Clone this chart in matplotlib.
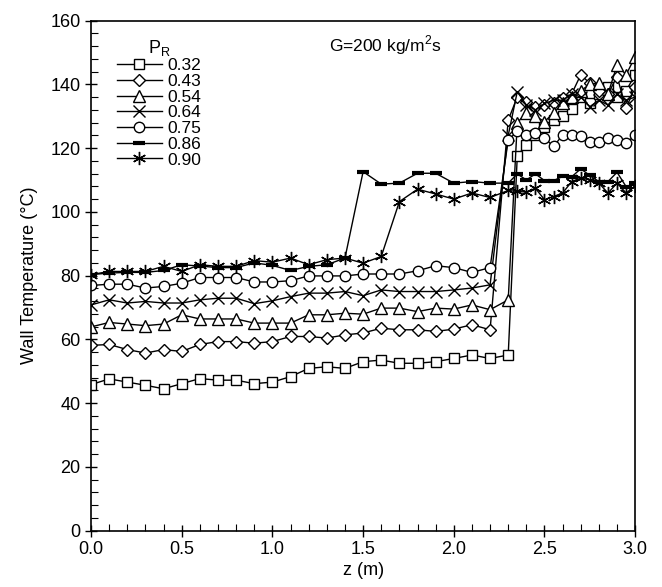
import matplotlib
matplotlib.use("Agg")
import matplotlib.pyplot as plt
from matplotlib.ticker import MultipleLocator

plt.rcParams['font.family'] = ['Liberation Sans', 'DejaVu Sans']
plt.rcParams['mathtext.fontset'] = 'custom'
plt.rcParams['mathtext.rm'] = 'Liberation Sans'

# axial positions (m): coarse part up to 2.2, finer spacing after the dryout jump
z_lo = [0.0, 0.1, 0.2, 0.3, 0.4, 0.5, 0.6, 0.7, 0.8, 0.9, 1.0, 1.1,
        1.2, 1.3, 1.4, 1.5, 1.6, 1.7, 1.8, 1.9, 2.0, 2.1, 2.2]
z_hi = [2.3, 2.35, 2.4, 2.45, 2.5, 2.55, 2.6, 2.65, 2.7, 2.75, 2.8,
        2.85, 2.9, 2.95, 3.0]
z_all = z_lo + z_hi

t_032 = [45.8, 47.6, 46.6, 45.6, 44.5, 46.1, 47.7, 47.2, 47.2, 46.1, 46.6, 48.3,
         50.9, 51.4, 50.9, 53.0, 53.5, 52.5, 52.5, 53.0, 54.0, 55.1, 54.0,
         55.1, 117.6, 121.0, 124.0, 126.5, 128.8, 130.1, 132.2, 136.1, 134.0,
         137.0, 139.3, 136.0, 138.0, 143.0]
t_043 = [58.1, 58.4, 56.8, 55.7, 56.8, 56.2, 58.4, 59.3, 59.3, 58.8, 59.3, 60.9,
         60.9, 60.4, 61.4, 62.0, 63.5, 63.0, 63.0, 62.5, 63.2, 64.6, 63.0,
         128.8, 136.0, 134.6, 133.0, 133.5, 134.0, 135.6, 137.0, 143.0, 140.3,
         138.0, 137.0, 142.4, 132.5, 139.3]
t_054 = [63.9, 65.3, 64.8, 64.3, 64.8, 67.7, 66.4, 66.4, 66.4, 65.1, 65.1, 65.1,
         67.7, 67.7, 68.2, 67.9, 69.8, 69.8, 68.7, 69.8, 69.5, 70.8, 69.3,
         72.4, 128.0, 131.0, 130.0, 128.3, 131.0, 134.0, 136.0, 138.0, 140.0,
         140.4, 137.0, 146.0, 143.0, 148.7]
t_064 = [70.8, 72.4, 71.4, 71.9, 71.4, 71.4, 72.4, 72.9, 72.9, 71.2, 72.1, 73.4,
         74.5, 74.5, 75.0, 73.7, 75.5, 75.0, 75.0, 75.0, 75.5, 76.1, 77.1,
         124.0, 137.7, 133.5, 132.0, 134.0, 135.0, 135.0, 137.0, 136.0, 133.0,
         135.0, 133.5, 137.0, 135.0, 136.0]
t_075 = [76.9, 77.3, 77.3, 76.1, 76.6, 77.6, 79.4, 79.4, 79.4, 78.0, 78.0, 78.4,
         79.9, 79.9, 79.9, 80.5, 80.5, 80.5, 81.5, 83.1, 82.5, 81.0, 82.5,
         122.6, 125.2, 124.1, 124.7, 123.1, 120.5, 124.1, 124.1, 123.8, 122.0,
         122.0, 123.1, 122.6, 121.5, 124.1]
t_086 = [80.3, 80.8, 81.0, 81.0, 81.6, 83.4, 83.0, 82.5, 82.5, 84.0, 83.2, 81.6,
         82.9, 83.4, 85.5, 112.6, 108.7, 109.0, 112.1, 112.1, 109.0, 109.5, 109.0,
         109.0, 111.9, 110.0, 111.9, 109.8, 109.8, 111.1, 111.0, 113.5, 111.4,
         109.5, 109.5, 112.4, 107.9, 109.0]
t_090 = [80.3, 81.3, 81.3, 81.3, 82.9, 81.3, 83.4, 82.9, 82.9, 84.7, 84.2, 85.5,
         83.4, 85.0, 85.5, 83.9, 86.0, 103.2, 107.1, 105.6, 104.0, 105.9, 104.5,
         106.7, 106.4, 106.2, 107.4, 103.8, 104.8, 105.9, 109.5, 110.6, 110.0,
         109.0, 105.9, 109.0, 105.9, 108.2]

labels = ['0.32', '0.43', '0.54', '0.64', '0.75', '0.86', '0.90']
series = [t_032, t_043, t_054, t_064, t_075, t_086, t_090]
markers = ['s', 'D', '^', 'x', 'o', '_', (6, 2, 0)]
msizes = [7.5, 6.5, 8, 8.5, 7.5, 8.5, 9.5]

fig = plt.figure(figsize=(6.62, 5.87), dpi=100)
ax = fig.add_axes([0.1375, 0.096, 0.822, 0.869])

for t, lab, m, ms in zip(series, labels, markers, msizes):
    mew = 3 if m == '_' else 1.0
    ax.plot(z_all, t, color='black', linewidth=1.0, marker=m, markersize=ms,
            markerfacecolor='white', markeredgecolor='black',
            markeredgewidth=mew, label=lab)

ax.set_xlim(0, 3.0)
ax.set_ylim(0, 160)
ax.xaxis.set_major_locator(MultipleLocator(0.5))
ax.xaxis.set_minor_locator(MultipleLocator(0.1))
ax.yaxis.set_major_locator(MultipleLocator(20))
ax.yaxis.set_minor_locator(MultipleLocator(4))
ax.xaxis.set_major_formatter(plt.FormatStrFormatter('%.1f'))
ax.tick_params(which='major', direction='inout', length=9, width=1,
               labelsize=13, pad=3)
ax.tick_params(which='minor', direction='in', length=5, width=0.8)
for s in ax.spines.values():
    s.set_linewidth(1.2)

ax.set_xlabel('z (m)', fontsize=13, labelpad=3)
ax.set_ylabel('Wall Temperature (°C)', fontsize=13, labelpad=9)

ax.text(1.62, 152.4, 'G=200 kg/m$^2$s', fontsize=12.5, ha='center', va='center')

leg = ax.legend(loc='upper left', bbox_to_anchor=(0.025, 0.99), frameon=False,
                title='P$_\\mathregular{R}$', fontsize=12.5, title_fontsize=13,
                handlelength=2.6, handletextpad=0.3, labelspacing=0.03,
                borderpad=0.2, numpoints=1)

fig.savefig('out.png', dpi=100)
